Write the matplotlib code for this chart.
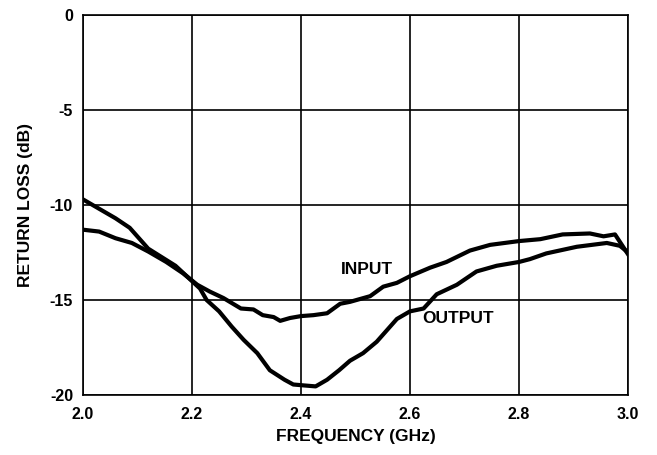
import matplotlib
matplotlib.use("Agg")
import matplotlib.pyplot as plt

plt.rcParams['font.family'] = ['Liberation Sans', 'DejaVu Sans']
plt.rcParams['font.weight'] = 'bold'

# output return loss (dB) vs frequency (GHz)
out_freq = [2.0, 2.03, 2.06, 2.086, 2.12, 2.17, 2.2, 2.215, 2.227, 2.25, 2.273, 2.295,
            2.32, 2.343, 2.37, 2.386, 2.406, 2.427, 2.448, 2.47, 2.49, 2.514, 2.539,
            2.576, 2.6, 2.625, 2.649, 2.686, 2.722, 2.759, 2.8, 2.82, 2.85, 2.906,
            2.961, 2.985, 3.0]
out_db = [-9.7, -10.2, -10.7, -11.2, -12.3, -13.2, -14.0, -14.4, -15.0, -15.6, -16.4, -17.1,
          -17.8, -18.7, -19.2, -19.45, -19.5, -19.55, -19.2, -18.7, -18.2, -17.8, -17.2,
          -16.0, -15.6, -15.45, -14.7, -14.2, -13.5, -13.2, -13.0, -12.85, -12.55, -12.2,
          -12.0, -12.15, -12.5]

# input return loss
in_freq = [2.0, 2.03, 2.06, 2.09, 2.12, 2.153, 2.184, 2.21, 2.233, 2.258, 2.29, 2.313,
           2.33, 2.35, 2.362, 2.38, 2.4, 2.423, 2.448, 2.472, 2.49, 2.527, 2.551, 2.576,
           2.6, 2.637, 2.667, 2.71, 2.747, 2.8, 2.839, 2.88, 2.93, 2.955, 2.976, 3.0]
in_db = [-11.3, -11.4, -11.75, -12.0, -12.45, -13.0, -13.6, -14.2, -14.56, -14.9, -15.45, -15.5,
         -15.8, -15.9, -16.1, -15.95, -15.85, -15.8, -15.7, -15.2, -15.1, -14.8, -14.3, -14.1,
         -13.75, -13.3, -13.0, -12.4, -12.1, -11.9, -11.8, -11.55, -11.5, -11.65, -11.55, -12.6]

fig = plt.figure(figsize=(6.57, 4.55), dpi=100)
ax = fig.add_axes([0.126, 0.132, 0.83, 0.835])

ax.plot(in_freq, in_db, color='black', lw=3, solid_joinstyle='round')
ax.plot(out_freq, out_db, color='black', lw=3, solid_joinstyle='round')

ax.set_xlim(2.0, 3.0)
ax.set_ylim(-20, 0)
ax.set_xticks([2.0, 2.2, 2.4, 2.6, 2.8, 3.0])
ax.set_xticklabels(['2.0', '2.2', '2.4', '2.6', '2.8', '3.0'])
ax.set_yticks([0, -5, -10, -15, -20])
ax.set_yticklabels(['0', '-5', '-10', '-15', '-20'])
ax.tick_params(length=0, labelsize=11.5)
ax.tick_params(axis='x', pad=9)
ax.tick_params(axis='y', pad=7)
ax.grid(True, color='black', lw=1.2)
for s in ax.spines.values():
    s.set_linewidth(1.2)

ax.set_xlabel('FREQUENCY (GHz)', fontsize=12.5, fontweight='bold', labelpad=5)
ax.set_ylabel('RETURN LOSS (dB)', fontsize=12.5, fontweight='bold', labelpad=12)

ax.text(2.521, -13.4, 'INPUT', fontsize=12.5, fontweight='bold', ha='center', va='center')
ax.text(2.688, -16.0, 'OUTPUT', fontsize=12.5, fontweight='bold', ha='center', va='center')

fig.savefig('out.png', dpi=100)
